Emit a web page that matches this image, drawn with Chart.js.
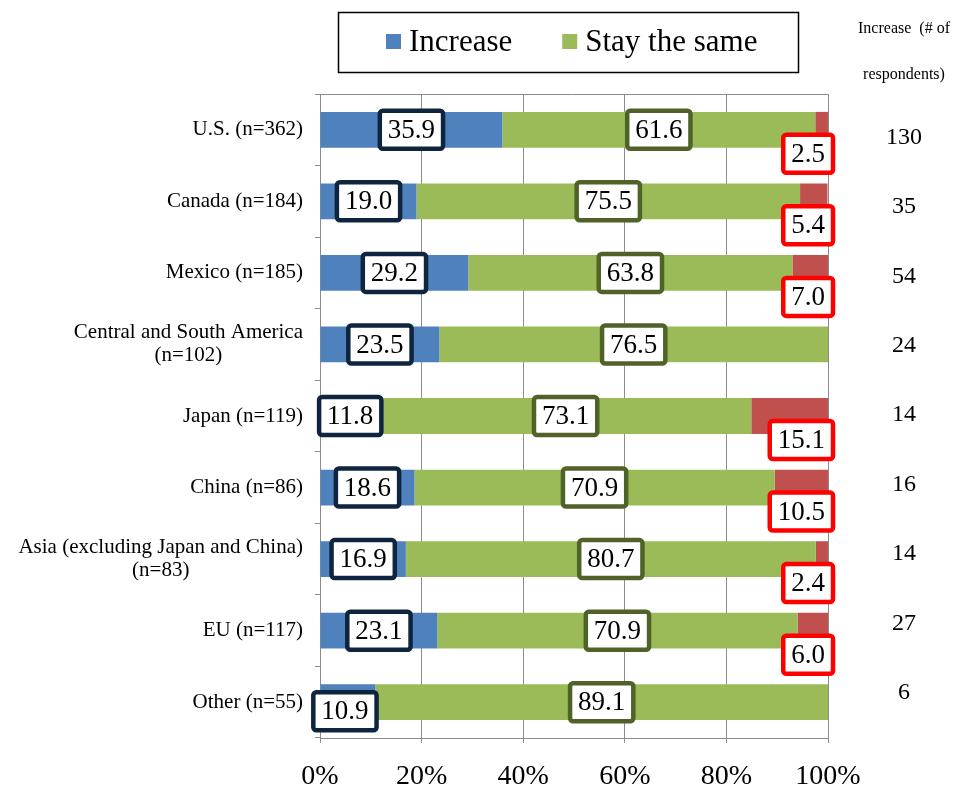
<!DOCTYPE html>
<html>
<head>
<meta charset="utf-8">
<script src="https://cdn.jsdelivr.net/npm/chart.js@4.4.0/dist/chart.umd.min.js"></script>
<style>
  html, body { margin: 0; padding: 0; background: #fff; }
  canvas { display: block; }
</style>
</head>
<body>
<canvas id="chart" width="961" height="789"></canvas>
<script>
// data
var regions = [
  ["U.S. (n=362)"],
  ["Canada (n=184)"],
  ["Mexico (n=185)"],
  ["Central and South America", "(n=102)"],
  ["Japan (n=119)"],
  ["China (n=86)"],
  ["Asia (excluding Japan and China)", "(n=83)"],
  ["EU (n=117)"],
  ["Other (n=55)"]
];
var increase = [35.9, 19.0, 29.2, 23.5, 11.8, 18.6, 16.9, 23.1, 10.9];
var stay = [61.6, 75.5, 63.8, 76.5, 73.1, 70.9, 80.7, 70.9, 89.1];
var decrease = [2.5, 5.4, 7.0, 0, 15.1, 10.5, 2.4, 6.0, 0];
var increaseCount = [130, 35, 54, 24, 14, 16, 14, 27, 6];
var xTicks = [0, 20, 40, 60, 80, 100];
var countHeader = ["Increase  (# of", "respondents)"];

var SERIF = "'Liberation Serif', 'Times New Roman', serif";
var GRID = "#8c8c8c";

// boxed value labels
var boxLabels = {
  id: "boxLabels",
  afterDatasetsDraw: function (chart) {
    var ctx = chart.ctx;
    var xs = chart.scales.x;
    var x0 = xs.getPixelForValue(0);
    var x100 = xs.getPixelForValue(100);
    var borders = ["#0F243E", "#4F6228", "#FF0000"];
    ctx.save();
    ctx.font = "27px " + SERIF;
    ctx.textAlign = "center";
    ctx.textBaseline = "middle";
    chart.data.datasets.forEach(function (ds, d) {
      var meta = chart.getDatasetMeta(d);
      meta.data.forEach(function (el, i) {
        var v = ds.data[i];
        if (!v) return;
        var txt = v.toFixed(1);
        var w = ctx.measureText(txt).width + 16;
        var h = 38;
        var cx, cy = el.y;
        if (d === 2) {
          cx = x100 + 5 - w / 2;
          cy = el.y + 24;
        } else {
          cx = (el.base + el.x) / 2;
          if (cx - w / 2 < x0 - 6) cx = x0 - 6 + w / 2;
          // the smallest blue segment has its box nudged down, as in the source
          if (d === 0 && v < 11.5) { cx -= 3; cy += 9; }
        }
        ctx.beginPath();
        ctx.roundRect(cx - w / 2, cy - h / 2, w, h, 3);
        ctx.fillStyle = "#fff";
        ctx.fill();
        ctx.lineWidth = 4.5;
        ctx.strokeStyle = borders[d];
        ctx.stroke();
        ctx.fillStyle = "#000";
        ctx.fillText(txt, cx, cy + 1);
      });
    });
    ctx.restore();
  }
};

// category labels, legend, top border and the count column
var extras = {
  id: "extras",
  afterDraw: function (chart) {
    var ctx = chart.ctx;
    var area = chart.chartArea;
    var ys = chart.scales.y;
    ctx.save();

    // top border of plot
    ctx.strokeStyle = GRID;
    ctx.lineWidth = 1;
    ctx.beginPath();
    ctx.moveTo(area.left - 5, area.top + 0.5);
    ctx.lineTo(area.right, area.top + 0.5);
    ctx.stroke();

    // y category labels
    ctx.fillStyle = "#000";
    ctx.font = "21px " + SERIF;
    ctx.textBaseline = "middle";
    regions.forEach(function (lines, i) {
      var y = ys.getPixelForValue(i);
      var right = area.left - 17;
      var lh = 23;
      var top = y - (lines.length - 1) * lh / 2;
      var w0 = ctx.measureText(lines[0]).width;
      lines.forEach(function (ln, k) {
        if (k === 0) {
          ctx.textAlign = "right";
          ctx.fillText(ln, right, top);
        } else {
          ctx.textAlign = "center";
          ctx.fillText(ln, right - w0 / 2, top + k * lh);
        }
      });
    });

    // legend
    ctx.lineWidth = 1.5;
    ctx.strokeStyle = "#000";
    ctx.strokeRect(338.5, 12.5, 460, 60);
    ctx.font = "31px " + SERIF;
    ctx.textAlign = "left";
    var lx = 386;
    chart.data.datasets.slice(0, 2).forEach(function (ds) {
      ctx.fillStyle = ds.backgroundColor;
      ctx.fillRect(lx, 34, 15, 15);
      ctx.fillStyle = "#000";
      ctx.fillText(ds.label, lx + 23, 43);
      lx += 23 + ctx.measureText(ds.label).width + 50;
    });

    // count column
    var cx = area.right + 76;
    ctx.textAlign = "center";
    ctx.font = "16px " + SERIF;
    ctx.fillText(countHeader[0], cx, 29);
    ctx.fillText(countHeader[1], cx, 75);
    ctx.font = "24px " + SERIF;
    var meta = chart.getDatasetMeta(0);
    increaseCount.forEach(function (n, i) {
      var y = meta.data[i].y + 8 - i * 2.2;
      ctx.fillText(String(n), cx, y);
    });

    ctx.restore();
  }
};

new Chart(document.getElementById("chart"), {
  type: "bar",
  data: {
    labels: regions,
    datasets: [
      { label: "Increase", data: increase, backgroundColor: "#4F81BD" },
      { label: "Stay the same", data: stay, backgroundColor: "#9BBB59" },
      { label: "Decrease", data: decrease, backgroundColor: "#C0504D" }
    ]
  },
  options: {
    indexAxis: "y",
    responsive: false,
    animation: false,
    maintainAspectRatio: false,
    devicePixelRatio: 1,
    layout: { padding: { left: 0, top: 94, right: 133, bottom: 0 } },
    datasets: { bar: { barPercentage: 0.5, categoryPercentage: 1 } },
    plugins: { legend: { display: false }, tooltip: { enabled: false } },
    scales: {
      x: {
        stacked: true,
        min: 0,
        max: 100,
        afterBuildTicks: function (scale) {
          scale.ticks = xTicks.map(function (v) { return { value: v }; });
        },
        afterFit: function (scale) { scale.height = 51; },
        grid: { color: GRID, tickLength: 5 },
        border: { color: GRID },
        ticks: {
          padding: 17,
          color: "#000",
          font: { family: SERIF, size: 28 },
          callback: function (v) { return v + "%"; }
        }
      },
      y: {
        stacked: true,
        afterFit: function (scale) { scale.width = 320; },
        grid: { offset: true, drawOnChartArea: false, color: GRID, tickLength: 5 },
        border: { color: GRID },
        ticks: { display: false }
      }
    }
  },
  plugins: [boxLabels, extras]
});
</script>
</body>
</html>
